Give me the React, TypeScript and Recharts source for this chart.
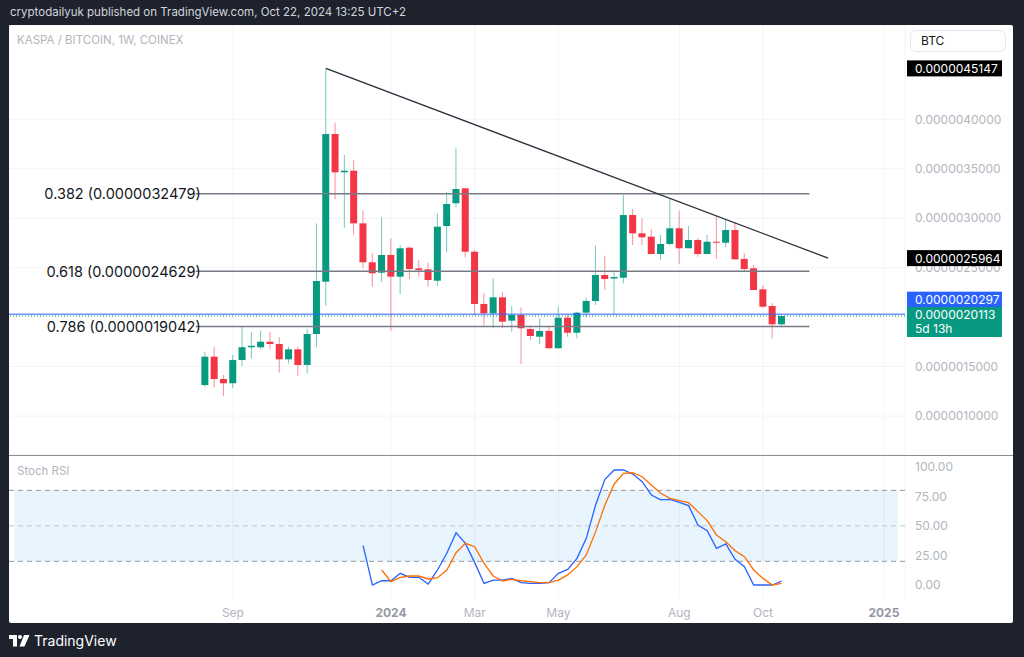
import React from 'react';
import {
  ComposedChart,
  Bar,
  Line,
  XAxis,
  YAxis,
  ReferenceLine,
  ReferenceArea,
  CartesianGrid,
} from 'recharts';

const GREEN = '#089981';
const RED = '#f23645';
const BLUE = '#2962ff';
const ORANGE = '#ff6d00';
const AXIS_TEXT = '#b2b5be';
const FONT = 'Inter, Roboto, "Noto Sans", sans-serif';

// weekly bars, first one = week of 14 Aug 2023. prices in satoshi (1e-8 BTC)
const open = [
  131.3, 160.0, 137.4, 133.1, 156.6, 169.5, 169.5, 175.1, 172.8, 157.3, 167.4, 151.6, 182.9,
  235.8, 385.1, 346.4, 348.0, 294.8, 255.4, 244.9, 262.8, 240.9, 270.2, 249.3, 248.3, 236.8,
  292.1, 315.1, 330.2, 266.1, 213.3, 203.8, 220.0, 196.4, 202.1, 188.0, 180.2, 186.0, 168.5,
  199.4, 184.2, 204.5, 216.3, 242.6, 239.0, 239.8, 303.2, 284.7, 281.3, 263.8, 273.9, 289.8,
  269.6, 278.0, 263.8, 276.2, 275.2, 288.1, 258.8, 249.3, 228.1, 211.2, 192.7,
];
const high = [
  165.0, 170.1, 141.5, 161.7, 190.3, 185.2, 186.3, 185.2, 179.6, 170.1, 170.1, 187.7, 294.8,
  451.47, 396.6, 363.9, 358.8, 307.6, 264.5, 300.9, 279.7, 272.9, 271.2, 257.7, 255.0, 305.0,
  326.8, 370.7, 330.5, 267.8, 224.1, 239.2, 225.7, 211.2, 209.9, 191.3, 198.8, 190.3, 210.5,
  202.1, 205.5, 219.6, 272.2, 261.8, 246.6, 323.5, 309.3, 299.9, 288.8, 283.0, 319.4, 307.6,
  292.1, 279.7, 283.0, 302.5, 298.9, 295.5, 264.5, 252.7, 232.5, 214.0, 202.0,
];
const low = [
  129.6, 128.6, 120.2, 128.0, 150.6, 158.3, 167.4, 167.4, 143.8, 153.3, 140.5, 143.2, 169.5,
  211.5, 319.1, 290.4, 283.7, 249.3, 230.7, 235.8, 186.0, 223.1, 238.5, 240.9, 230.7, 231.5,
  265.5, 311.0, 260.5, 202.1, 190.3, 188.7, 188.7, 185.2, 152.6, 176.8, 172.8, 168.5, 168.5,
  180.2, 178.6, 199.8, 212.2, 227.4, 202.8, 234.2, 272.9, 272.9, 263.8, 257.7, 272.2, 253.7,
  269.6, 261.1, 263.8, 258.8, 270.6, 258.4, 245.9, 227.4, 209.5, 178.6, 191.0,
];
const close = [
  160.0, 137.4, 133.1, 156.6, 169.5, 171.0, 175.1, 172.8, 157.3, 167.4, 151.6, 182.9, 236.5,
  385.1, 346.4, 348.0, 294.8, 255.4, 244.3, 262.8, 240.9, 269.6, 248.6, 247.6, 237.5, 291.4,
  314.4, 329.5, 266.1, 213.3, 203.8, 220.0, 195.4, 202.1, 188.7, 180.9, 186.0, 168.5, 199.4,
  184.2, 204.5, 216.3, 242.6, 238.5, 240.5, 303.2, 284.7, 280.7, 263.8, 273.9, 289.8, 269.6,
  278.0, 263.8, 276.2, 275.2, 288.1, 258.4, 248.6, 227.4, 210.5, 192.7, 201.13,
];

// Stoch RSI (%K from bar 17, %D from bar 19)
const kStart = 17;
const stochK = [
  33.2, 0, 3.6, 3.6, 9.9, 6.5, 6.5, 0.8, 12.7, 26.8, 44.2, 35.2, 18.9, 1.4, 4.2, 4.2, 5.6, 2.0,
  1.4, 1.4, 2.0, 9.9, 13.2, 22.5, 39.4, 67.6, 89.3, 97.2, 97.2, 93.8, 87.3, 76.1, 71.9, 72.4,
  69.9, 67.1, 50.7, 45.9, 31.0, 34.7, 21.7, 15.5, 0, 0, 0, 3.4,
];
const dStart = 19;
const stochD = [
  12.7, 2.8, 6.5, 7.6, 7.6, 5.1, 6.2, 12.7, 27.3, 35.2, 32.4, 18.3, 7.6, 3.4, 4.8, 3.6, 2.8, 2.0,
  2.0, 4.2, 8.5, 15.5, 25.4, 45.1, 67.6, 85.4, 94.4, 94.9, 91.5, 84.5, 77.5, 73.3, 71.3, 69.6,
  62.0, 54.4, 42.3, 36.6, 29.0, 23.9, 12.7, 5.6, 0, 1.4,
];

const fibRatios = ['0.382', '0.618', '0.786'];
const fibPrices = [324.79, 246.29, 190.42];
const fibFrom = -1;
const fibTo = 65;
const trendIdx = [13, 67];
const trendPrice = [451.47, 259.64];
const hLinePrice = 202.97;
const lastPrice = 201.13;
const countdown = '5d 13h';

// 0.0000045000 and 0.0000020000 sit fully under the price tags, so they are left out
const priceTicks = [100, 150, 250, 300, 350, 400];
const stochTicks = [0, 25, 50, 75, 100];
const timeTickIdx = [3, 20, 29, 38, 51, 60, 73];
const timeTickLabels = ['Sep', '2024', 'Mar', 'May', 'Aug', 'Oct', '2025'];

const FIRST = -20;
const LAST = 74;
const rows: any[] = [];
for (let i = FIRST; i <= LAST; i++) {
  const has = i >= 0 && i < open.length;
  const ki = i - kStart;
  const di = i - dStart;
  rows.push({
    i,
    o: has ? open[i] : null,
    h: has ? high[i] : null,
    l: has ? low[i] : null,
    c: has ? close[i] : null,
    k: ki >= 0 && ki < stochK.length ? stochK[ki] : null,
    d: di >= 0 && di < stochD.length ? stochD[di] : null,
  });
}

const fmt = (v: number) => (v / 1e8).toFixed(10);
const xPad = { left: 5.35, right: 7.15 };
const priceDomain = [60.57, 495.35];

const renderCandle = (props: any) => {
  const { x, y, width, height, payload } = props;
  if (!payload || payload.o == null || !height) return <g />;
  const { o, h, l, c } = payload;
  const py = (v: number) => y + ((h - v) / (h - l)) * height;
  const color = c >= o ? GREEN : RED;
  const top = py(Math.max(o, c));
  const bot = py(Math.min(o, c));
  const cx = x + width / 2;
  return (
    <g>
      <line x1={cx} x2={cx} y1={y} y2={y + height} stroke={color} strokeOpacity={0.55} />
      <rect x={x} y={top} width={width} height={Math.max(1, bot - top)} fill={color} />
    </g>
  );
};

// price tag drawn in the right axis area
const Tag = (props: any) => {
  const { viewBox, text, bg, dy = 0, sub } = props;
  if (!viewBox) return null;
  const ty = viewBox.y + dy;
  const bx = viewBox.x + viewBox.width + 2;
  const h = sub ? 30 : 16;
  const top = sub ? ty - 9 : ty - 8;
  return (
    <g>
      <rect x={bx} y={top} width={95} height={h} fill={bg} />
      <text x={bx + 8} y={top + 8} fill="#fff" fontSize={12} dominantBaseline="central">
        {text}
      </text>
      {sub && (
        <text x={bx + 8} y={top + 22} fill="#fff" fontSize={12} dominantBaseline="central">
          {sub}
        </text>
      )}
    </g>
  );
};

const FibLabel = (props: any) => {
  const { viewBox, text } = props;
  if (!viewBox) return null;
  return (
    <text
      x={viewBox.x + 5}
      y={viewBox.y + viewBox.height / 2}
      textAnchor="end"
      dominantBaseline="central"
      fill="#131722"
      fontSize={14.5}
    >
      {text}
    </text>
  );
};

const TimeTick = (props: any) => {
  const { x, y, payload } = props;
  const label = timeTickLabels[timeTickIdx.indexOf(payload.value)];
  const isYear = /^\d{4}$/.test(label || '');
  return (
    <text
      x={x}
      y={y + 6}
      textAnchor="middle"
      dominantBaseline="central"
      fill={isYear ? '#9598a1' : AXIS_TEXT}
      fontSize={12}
      fontWeight={isYear ? 700 : 400}
    >
      {label}
    </text>
  );
};

const Logo = () => (
  <svg width={21} height={12} viewBox="0 0 21 12">
    <path d="M0 0H8V11.5H4V4H0Z" fill="#fff" />
    <circle cx={11} cy={2} r={2} fill="#fff" />
    <path d="M15 0H20.5L15.5 11.5H10.5Z" fill="#fff" />
  </svg>
);

export default function App() {
  return (
    <div
      style={{
        position: 'absolute',
        left: 0,
        top: 0,
        width: 1024,
        height: 657,
        background: '#1e222d',
        fontFamily: FONT,
        overflow: 'hidden',
      }}
    >
      <div style={{ position: 'absolute', left: 10, top: 4, color: '#d1d4dc', fontSize: 11.5, lineHeight: '16px' }}>
        cryptodailyuk published on TradingView.com, Oct 22, 2024 13:25 UTC+2
      </div>

      <div
        style={{
          position: 'absolute',
          left: 9,
          top: 25,
          width: 1004,
          height: 598,
          background: '#fff',
          borderRadius: 2,
        }}
      />

      {/* price pane */}
      <div style={{ position: 'absolute', left: 9, top: 25 }}>
        <ComposedChart width={1004} height={430} data={rows} margin={{ top: 0, right: 0, bottom: 0, left: 0 }}>
          <CartesianGrid stroke="#f3f4f7" />
          <XAxis
            dataKey="i"
            type="category"
            scale="band"
            hide
            padding={xPad}
            ticks={timeTickIdx}
            interval={0}
          />
          <YAxis
            orientation="right"
            width={108}
            type="number"
            domain={priceDomain}
            allowDataOverflow
            ticks={priceTicks}
            interval={0}
            tickFormatter={fmt}
            axisLine={false}
            tickLine={false}
            tickSize={0}
            tickMargin={10}
            tick={{ fill: AXIS_TEXT, fontSize: 12 }}
          />
          <ReferenceLine y={hLinePrice} stroke={BLUE} strokeWidth={1} />
          <ReferenceLine y={lastPrice} stroke={GREEN} strokeDasharray="1 2" />
          {fibPrices.map((p, n) => (
            <ReferenceLine
              key={fibRatios[n]}
              segment={[
                { x: fibFrom, y: p },
                { x: fibTo, y: p },
              ]}
              stroke="#787b86"
              strokeWidth={1.5}
              label={<FibLabel text={`${fibRatios[n]} (${fmt(p)})`} />}
            />
          ))}
          <ReferenceLine
            segment={[
              { x: trendIdx[0], y: trendPrice[0] },
              { x: trendIdx[1], y: trendPrice[1] },
            ]}
            stroke="#2a2e39"
            strokeWidth={1.3}
          />
          <Bar
            dataKey={(r: any) => (r.o == null ? null : [r.l, r.h])}
            barSize={7}
            shape={renderCandle}
            isAnimationActive={false}
          />
        </ComposedChart>
      </div>

      {/* price tags, overlaid on the axis so they hide the ticks behind them */}
      <div style={{ position: 'absolute', left: 9, top: 25 }}>
        <ComposedChart width={1004} height={430} data={rows} margin={{ top: 0, right: 108, bottom: 0, left: 0 }}>
          <XAxis dataKey="i" type="category" scale="band" hide padding={xPad} />
          <YAxis type="number" hide domain={priceDomain} allowDataOverflow />
          <ReferenceLine y={trendPrice[0]} stroke="none" label={<Tag text={fmt(trendPrice[0])} bg="#000" />} />
          <ReferenceLine y={trendPrice[1]} stroke="none" label={<Tag text={fmt(trendPrice[1])} bg="#000" />} />
          <ReferenceLine y={hLinePrice} stroke="none" label={<Tag text={fmt(hLinePrice)} bg={BLUE} dy={-14.5} />} />
          <ReferenceLine y={lastPrice} stroke="none" label={<Tag text={fmt(lastPrice)} sub={countdown} bg={GREEN} />} />
        </ComposedChart>
      </div>

      <div style={{ position: 'absolute', left: 17, top: 32, color: AXIS_TEXT, fontSize: 11.5, lineHeight: '16px' }}>
        KASPA / BITCOIN, 1W, COINEX
      </div>
      <div
        style={{
          position: 'absolute',
          left: 910,
          top: 30,
          width: 96,
          height: 22,
          border: '1px solid #e6e8ee',
          borderRadius: 6,
          background: '#fff',
          boxSizing: 'border-box',
          color: '#131722',
          fontSize: 12,
          lineHeight: '20px',
          paddingLeft: 10,
        }}
      >
        BTC
      </div>

      <div style={{ position: 'absolute', left: 9, top: 455, width: 1004, height: 1, background: '#8a8d96' }} />

      {/* Stoch RSI pane */}
      <div style={{ position: 'absolute', left: 9, top: 455 }}>
        <ComposedChart width={1004} height={168} data={rows} margin={{ top: 1, right: 0, bottom: 0, left: 0 }}>
          <CartesianGrid stroke="#f3f4f7" horizontal={false} />
          <ReferenceArea y1={20} y2={80} fill="#2196f3" fillOpacity={0.1} stroke="none" />
          <ReferenceLine y={80} stroke="#9598a1" strokeDasharray="5 4" />
          <ReferenceLine y={50} stroke="#c3c6cd" strokeDasharray="5 4" />
          <ReferenceLine y={20} stroke="#9598a1" strokeDasharray="5 4" />
          <XAxis
            dataKey="i"
            type="category"
            scale="band"
            padding={xPad}
            ticks={timeTickIdx}
            interval={0}
            height={25}
            axisLine={false}
            tickLine={false}
            tick={<TimeTick />}
          />
          <YAxis
            orientation="right"
            width={108}
            type="number"
            domain={[-10.99, 109.04]}
            allowDataOverflow
            ticks={stochTicks}
            interval={0}
            tickFormatter={(v: number) => v.toFixed(2)}
            axisLine={false}
            tickLine={false}
            tickSize={0}
            tickMargin={10}
            tick={{ fill: AXIS_TEXT, fontSize: 12 }}
          />
          <Line dataKey="k" stroke={BLUE} strokeWidth={1.3} dot={false} isAnimationActive={false} />
          <Line dataKey="d" stroke={ORANGE} strokeWidth={1.3} dot={false} isAnimationActive={false} />
        </ComposedChart>
      </div>
      <div style={{ position: 'absolute', left: 17, top: 463, color: AXIS_TEXT, fontSize: 11.5, lineHeight: '16px' }}>
        Stoch RSI
      </div>

      <div style={{ position: 'absolute', left: 9, top: 634, display: 'flex', alignItems: 'center', gap: 4 }}>
        <Logo />
        <span style={{ color: '#fff', fontSize: 14, lineHeight: '14px' }}>TradingView</span>
      </div>
    </div>
  );
}
